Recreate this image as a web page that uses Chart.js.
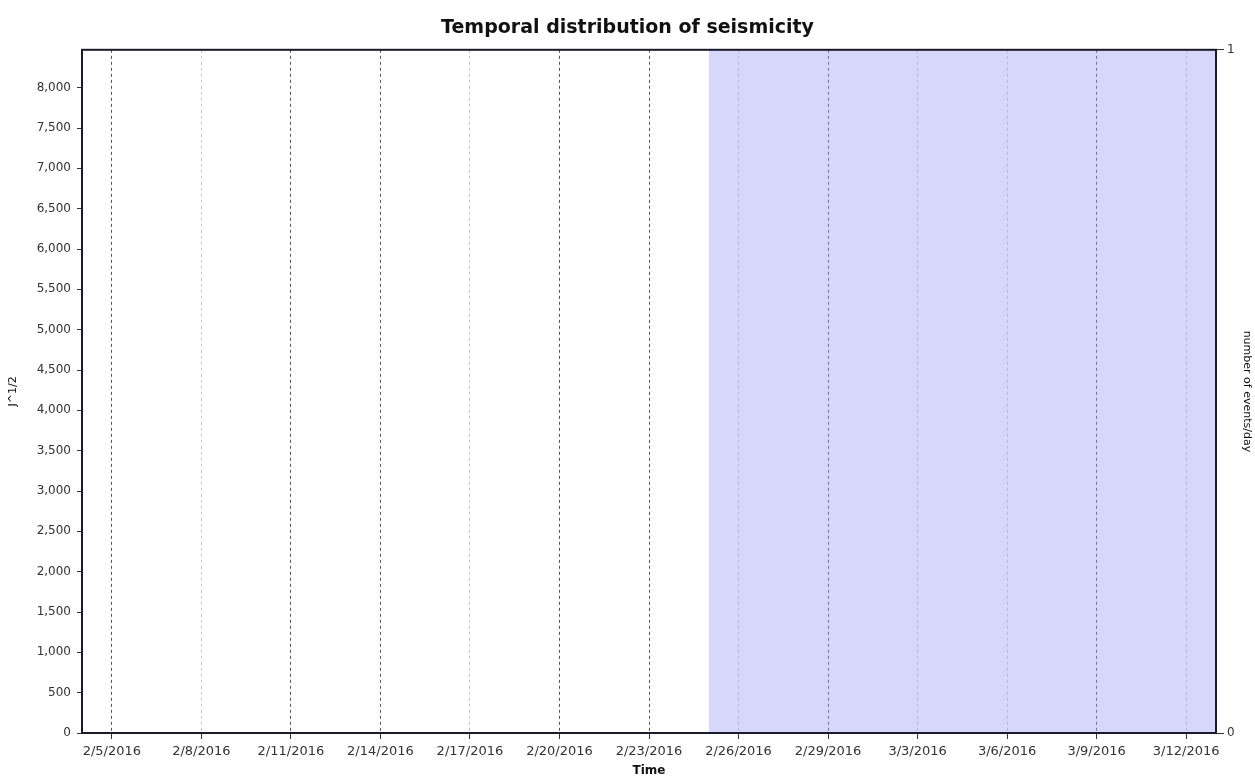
<!DOCTYPE html>
<html>
<head>
<meta charset="utf-8">
<script src="https://cdn.jsdelivr.net/npm/chart.js@4.4.1/dist/chart.umd.min.js"></script>
<style>
  html, body { margin: 0; padding: 0; background: #fff; }
  #wrap { width: 1255px; height: 778px; }
</style>
</head>
<body>
<div id="wrap"><canvas id="seismicChart"></canvas></div>
<script>
// axis extent and ticks
const axisStart = '2/4/2016';
const axisEnd = '3/13/2016';
const xTickLabels = ['2/5/2016', '2/8/2016', '2/11/2016', '2/14/2016', '2/17/2016', '2/20/2016', '2/23/2016',
    '2/26/2016', '2/29/2016', '3/3/2016', '3/6/2016', '3/9/2016', '3/12/2016'];
const yLeftMax = 8470;
const yLeftTicks = [0, 500, 1000, 1500, 2000, 2500, 3000, 3500, 4000, 4500, 5000, 5500, 6000, 6500, 7000, 7500, 8000];
const yRightTicks = [0, 1];

// shaded period (number of events/day axis)
const shadeDates = ['2/25/2016', '3/13/2016'];
const shadeValues = [1, 1];

function toUTC(str) {
    const [m, d, y] = str.split('/').map(Number);
    return Date.UTC(y, m - 1, d);
}

function dayOffset(str) {
    return (toUTC(str) - toUTC(axisStart)) / 86400000;
}

const tickDays = xTickLabels.map(dayOffset);
const lightGrid = [1, 4, 7, 9, 10, 12];

const font = '"DejaVu Sans", Verdana, sans-serif';

// outer frame of the plot area
const frame = {
    id: 'frame',
    afterDraw(chart) {
        const { ctx, chartArea: a } = chart;
        ctx.save();
        ctx.strokeStyle = '#1a1a2a';
        ctx.lineWidth = 2;
        ctx.strokeRect(a.left, a.top, a.right - a.left, a.bottom - a.top);
        ctx.restore();
    }
};

new Chart(document.getElementById('seismicChart'), {
    type: 'line',
    data: {
        datasets: [{
            label: 'shade',
            data: shadeDates.map((d, i) => ({ x: dayOffset(d), y: shadeValues[i] })),
            yAxisID: 'y1',
            fill: 'origin',
            backgroundColor: 'rgba(160, 160, 245, 0.42)',
            borderColor: 'transparent',
            borderWidth: 0,
            pointRadius: 0
        }]
    },
    options: {
        responsive: true,
        maintainAspectRatio: false,
        animation: false,
        layout: { padding: 0 },
        plugins: {
            legend: { display: false },
            tooltip: { enabled: false },
            title: {
                display: true,
                text: 'Temporal distribution of seismicity',
                color: '#111',
                font: { family: font, size: 19, weight: 'bold' },
                padding: { top: 17, bottom: 10 }
            }
        },
        scales: {
            x: {
                type: 'linear',
                min: 0,
                max: dayOffset(axisEnd),
                afterBuildTicks: s => { s.ticks = tickDays.map(v => ({ value: v })); },
                afterFit: s => { s.height = 45; },
                ticks: {
                    autoSkip: false,
                    maxRotation: 0,
                    padding: 5,
                    color: '#333',
                    font: { family: font, size: 13 },
                    callback: (v, i) => xTickLabels[i]
                },
                grid: {
                    color: c => lightGrid.includes(c.index) ? '#c4c4c4' : '#555',
                    lineWidth: 1,
                    tickLength: 6,
                    tickColor: '#333'
                },
                border: { display: true, color: '#222', width: 2, dash: [3, 3] },
                title: {
                    display: true,
                    text: 'Time',
                    color: '#111',
                    font: { family: font, size: 12, weight: 'bold' },
                    padding: { top: 0, bottom: 0 }
                }
            },
            y: {
                position: 'left',
                min: 0,
                max: yLeftMax,
                afterBuildTicks: s => { s.ticks = yLeftTicks.map(v => ({ value: v })); },
                afterFit: s => { s.width = 82; },
                ticks: {
                    padding: 6,
                    color: '#333',
                    font: { family: font, size: 12 },
                    callback: v => v.toLocaleString('en-US')
                },
                grid: { drawOnChartArea: false, tickLength: 5, tickColor: '#333' },
                border: { color: '#222', width: 2 },
                title: {
                    display: true,
                    text: 'J^1/2',
                    color: '#111',
                    font: { family: font, size: 11 },
                    padding: { top: 7, bottom: 0 }
                }
            },
            y1: {
                position: 'right',
                min: 0,
                max: 1,
                afterBuildTicks: s => { s.ticks = yRightTicks.map(v => ({ value: v })); },
                afterFit: s => { s.width = 39; },
                ticks: {
                    padding: 3,
                    color: '#333',
                    font: { family: font, size: 12 }
                },
                grid: { drawOnChartArea: false, tickLength: 8, tickColor: '#333' },
                border: { color: '#1a1a3a', width: 2 },
                title: {
                    display: true,
                    text: 'number of events/day',
                    color: '#111',
                    font: { family: font, size: 11 },
                    padding: { top: 2, bottom: 0 }
                }
            }
        }
    },
    plugins: [frame]
});
</script>
</body>
</html>
